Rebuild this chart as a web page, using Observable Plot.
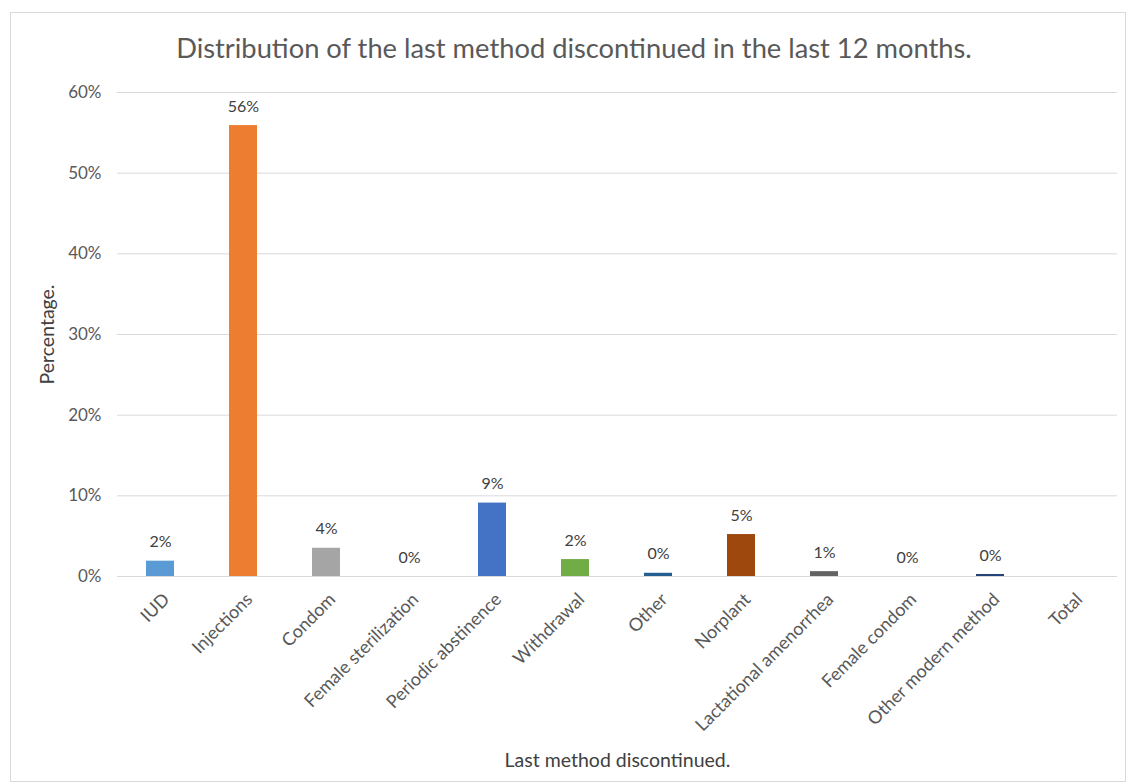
<!DOCTYPE html>
<html>
<head>
<meta charset="utf-8">
<script src="https://cdn.jsdelivr.net/npm/d3@7"></script>
<script src="https://cdn.jsdelivr.net/npm/@observablehq/plot@0.6"></script>
<style>
  html, body { margin: 0; padding: 0; background: #fff; }
  #frame { position: absolute; left: 10px; top: 12px; width: 1116px; height: 770px; border: 1px solid #d9d9d9; box-sizing: border-box; }
  #title { position: absolute; left: 0; top: 31px; width: 1148px; text-align: center; font-family: Lato, "Open Sans", sans-serif; font-size: 27.3px; color: #595959; }
  #chart { position: absolute; left: 0; top: 70px; }
</style>
</head>
<body>
<div id="frame"></div>
<div id="title">Distribution of the last method discontinued in the last 12 months.</div>
<div id="chart"></div>
<script>
const categories = ["IUD", "Injections", "Condom", "Female sterilization", "Periodic abstinence", "Withdrawal", "Other", "Norplant", "Lactational amenorrhea", "Female condom", "Other modern method", "Total"];
const values = [1.9, 55.9, 3.5, 0, 9.1, 2.1, 0.4, 5.2, 0.6, 0, 0.25, null];
const colors = ["#5B9BD5", "#ED7D31", "#A5A5A5", "#FFC000", "#4472C4", "#70AD47", "#255E91", "#9E480E", "#636363", "#997300", "#264478", "#43682B"];
const yTicks = [0, 10, 20, 30, 40, 50, 60];

const data = categories.map((c, i) => ({category: c, value: values[i], color: colors[i]}));
const withVal = data.filter(d => d.value !== null);

const font = "Lato, 'Open Sans', sans-serif";

const chart = Plot.plot({
  width: 1126,
  height: 712,
  marginTop: 22,
  marginLeft: 117,
  marginRight: 9,
  marginBottom: 206,
  style: {fontFamily: font, fontSize: "17px", color: "#595959", background: "transparent"},
  x: {domain: categories, paddingInner: 0.66, paddingOuter: 0.33},
  y: {domain: [0, 60]},
  marks: [
    Plot.ruleY(yTicks, {stroke: "#d9d9d9", strokeWidth: 1}),
    Plot.axisY({ticks: yTicks, tickFormat: d => d + "%", tickSize: 0, tickPadding: 16, label: null, fontSize: 17, fill: "#595959"}),
    Plot.axisX({tickSize: 0, tickRotate: -45, tickPadding: 6, dx: 6, dy: 14, label: null, fontSize: 18, fill: "#595959"}),
    Plot.barY(withVal, {x: "category", y: "value", fill: "color"}),
    Plot.text(withVal, {x: "category", y: "value", text: d => Math.round(d.value) + "%", dy: -19, fill: "#404040", fontSize: 16}),
    Plot.text(["Percentage."], {frameAnchor: "left", textAnchor: "middle", rotate: -90, dx: -70, fill: "#404040", fontSize: 19.5}),
    Plot.text(["Last method discontinued."], {frameAnchor: "bottom", textAnchor: "middle", dy: 190, fill: "#404040", fontSize: 19.5})
  ]
});
document.getElementById("chart").appendChild(chart);
</script>
</body>
</html>
